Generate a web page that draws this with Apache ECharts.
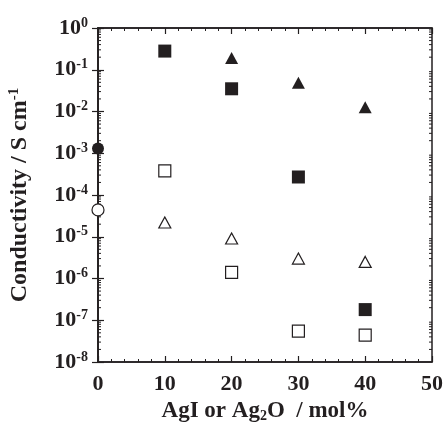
<!DOCTYPE html>
<html>
<head>
<meta charset="utf-8">
<script src="https://cdn.jsdelivr.net/npm/echarts@6/dist/echarts.min.js"></script>
<style>
  html, body { margin: 0; padding: 0; background: #fff; }
  #chart { width: 445px; height: 423px; }
</style>
</head>
<body>
<div id="chart"></div>
<script>
// AgI / Ag2O content (mol%) vs conductivity (S cm^-1)
const filledSquares = [[10, 0.28], [20, 0.035], [30, 2.7e-4], [40, 1.8e-7]];
const filledTriangles = [[20, 0.19], [30, 0.049], [40, 0.0126]];
const openSquares = [[10, 3.8e-4], [20, 1.4e-6], [30, 5.5e-8], [40, 4.4e-8]];
const openTriangles = [[10, 2.2e-5], [20, 9.1e-6], [30, 3.0e-6], [40, 2.5e-6]];
const filledCircle = [[0, 1.3e-3]];
const openCircle = [[0, 4.4e-5]];

const ink = '#231f20';
const font = 'Liberation Serif';

// log minor tick positions (2..9 per decade)
const minorTickValues = [];
for (let n = -8; n < 0; n++) {
  for (let k = 2; k <= 9; k++) minorTickValues.push(k * Math.pow(10, n));
}

const chart = echarts.init(document.getElementById('chart'));

const markerSeries = (data, symbol, size, filled) => ({
  type: 'scatter',
  data,
  symbol,
  symbolSize: size,
  xAxisIndex: 0,
  yAxisIndex: 0,
  itemStyle: {
    color: filled ? ink : '#fff',
    borderColor: ink,
    borderWidth: filled ? 0 : 1.2,
    opacity: 1
  },
  z: 5
});

chart.setOption({
  animation: false,
  grid: {
    left: 98,
    right: 13,
    top: 28,
    bottom: 61,
    outerBoundsMode: 'none',
    containLabel: false,
    show: true,
    borderColor: ink,
    borderWidth: 1.5,
    backgroundColor: 'transparent'
  },
  xAxis: [
    {
      type: 'value',
      min: 0,
      max: 50,
      interval: 10,
      axisLine: { show: true, lineStyle: { color: ink, width: 1.5 } },
      axisTick: { show: true, inside: true, length: 6, lineStyle: { color: ink, width: 1.2 } },
      minorTick: { show: true, splitNumber: 5, length: 3, lineStyle: { color: ink, width: 1 } },
      splitLine: { show: false },
      axisLabel: {
        color: ink, fontFamily: font, fontWeight: 'bold', fontSize: 22, margin: 11
      },
      name: 'AgI or Ag{sub|2}O  / mol%',
      nameLocation: 'middle',
      nameGap: 29,
      nameTextStyle: {
        color: ink, fontFamily: font, fontWeight: 'bold', fontSize: 23,
        rich: {
          sub: { fontFamily: font, fontWeight: 'bold', fontSize: 14, color: ink, verticalAlign: 'bottom', padding: [8, 0, 0, 0] }
        }
      }
    },
    {
      type: 'value',
      position: 'top',
      min: 0,
      max: 50,
      interval: 10,
      axisLine: { show: true, lineStyle: { color: ink, width: 1.5 } },
      axisTick: { show: true, inside: true, length: 6, lineStyle: { color: ink, width: 1.2 } },
      minorTick: { show: true, splitNumber: 5, length: 3, lineStyle: { color: ink, width: 1 } },
      splitLine: { show: false },
      axisLabel: { show: false }
    }
  ],
  yAxis: [
    {
      type: 'log',
      logBase: 10,
      min: 1e-8,
      max: 1,
      interval: 1,
      axisLine: { show: true, lineStyle: { color: ink, width: 1.5 } },
      axisTick: { show: true, inside: true, length: 6, lineStyle: { color: ink, width: 1.2 } },
      splitLine: { show: false },
      axisLabel: {
        margin: 10,
        formatter: v => '{b|10}{s|' + Math.round(Math.log10(v)) + '}',
        rich: {
          b: { fontFamily: font, fontWeight: 'bold', fontSize: 22, color: ink },
          s: { fontFamily: font, fontWeight: 'bold', fontSize: 14, color: ink, verticalAlign: 'top', padding: [0, 0, 10, 0] }
        }
      },
      name: 'Conductivity / S cm{sup|-1}',
      nameLocation: 'middle',
      nameGap: 66,
      nameTextStyle: {
        color: ink, fontFamily: font, fontWeight: 'bold', fontSize: 24,
        rich: {
          sup: { fontFamily: font, fontWeight: 'bold', fontSize: 15, color: ink, verticalAlign: 'top', padding: [0, 0, 10, 0] }
        }
      }
    },
    {
      type: 'log',
      logBase: 10,
      position: 'right',
      min: 1e-8,
      max: 1,
      interval: 1,
      axisLine: { show: true, lineStyle: { color: ink, width: 1.5 } },
      axisTick: { show: true, inside: true, length: 6, lineStyle: { color: ink, width: 1.2 } },
      splitLine: { show: false },
      axisLabel: { show: false }
    }
  ],
  series: [
    {
      type: 'custom',
      xAxisIndex: 0,
      yAxisIndex: 0,
      data: minorTickValues.map(v => [0, v]),
      silent: true,
      clip: false,
      renderItem: (params, api) => {
        const pl = api.coord([0, api.value(1)]);
        const pr = api.coord([50, api.value(1)]);
        return {
          type: 'group',
          children: [
            { type: 'line', shape: { x1: pl[0], y1: pl[1], x2: pl[0] + 3, y2: pl[1] }, style: { stroke: ink, lineWidth: 1 } },
            { type: 'line', shape: { x1: pr[0], y1: pr[1], x2: pr[0] - 3, y2: pr[1] }, style: { stroke: ink, lineWidth: 1 } }
          ]
        };
      },
      z: 3
    },
    markerSeries(filledSquares, 'rect', 13, true),
    markerSeries(filledTriangles, 'triangle', [13, 12], true),
    markerSeries(openSquares, 'rect', 12, false),
    markerSeries(openTriangles, 'triangle', [12, 11], false),
    markerSeries(filledCircle, 'circle', 12, true),
    markerSeries(openCircle, 'circle', 12, false)
  ]
});
</script>
</body>
</html>
